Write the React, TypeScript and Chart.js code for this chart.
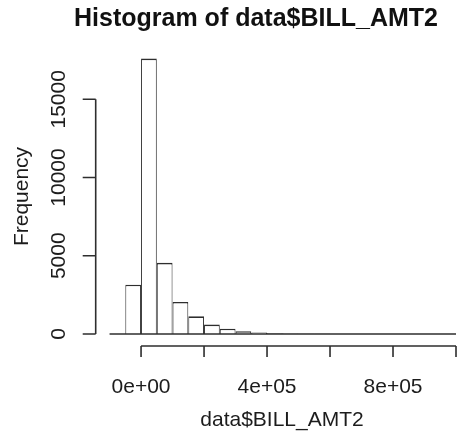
import React, { useEffect, useRef } from "react";
import { Chart, registerables } from "chart.js";

Chart.register(...registerables);

// Histogram bins (left edges) and counts
const binWidth = 50000;
const binStarts = [
  -100000, -50000, 0, 50000, 100000, 150000, 200000, 250000, 300000, 350000,
  400000, 450000, 500000, 550000, 600000, 650000, 700000, 750000, 800000,
  850000, 900000, 950000,
];
const counts = [
  3, 3150, 17600, 4550, 2050, 1130, 600, 340, 170, 90,
  45, 25, 15, 8, 5, 3, 2, 1, 1, 1, 0, 1,
];

const xTicks = [0, 200000, 400000, 600000, 800000, 1000000];
const xTickLabels = ["0e+00", "", "4e+05", "", "8e+05", ""];
const yTicks = [0, 5000, 10000, 15000];
const yTickLabels = ["0", "5000", "10000", "15000"];

const mainTitle = "Histogram of data$BILL_AMT2";
const xTitle = "data$BILL_AMT2";
const yTitle = "Frequency";

const FONT = '"Liberation Sans", Arial, Helvetica, sans-serif';
const INK = "#1c1c1c";
const LINE = "#2e2e2e";

const rAxesPlugin = {
  id: "rAxes",
  afterDraw(chart: any) {
    const ctx = chart.ctx as CanvasRenderingContext2D;
    const xs = chart.scales.x;
    const ys = chart.scales.y;
    const area = chart.chartArea;
    ctx.save();
    ctx.strokeStyle = LINE;
    ctx.lineWidth = 1.6;

    // histogram baseline (zero-height bars)
    const y0 = ys.getPixelForValue(0);
    const last = binStarts[binStarts.length - 1] + binWidth;
    ctx.beginPath();
    ctx.moveTo(xs.getPixelForValue(binStarts[0]), y0);
    ctx.lineTo(xs.getPixelForValue(last), y0);
    ctx.stroke();

    // x axis
    const axY = area.bottom;
    ctx.beginPath();
    ctx.moveTo(xs.getPixelForValue(xTicks[0]), axY);
    ctx.lineTo(xs.getPixelForValue(xTicks[xTicks.length - 1]), axY);
    for (const t of xTicks) {
      const px = xs.getPixelForValue(t);
      ctx.moveTo(px, axY);
      ctx.lineTo(px, axY + 11);
    }
    ctx.stroke();

    // y axis
    const axX = area.left;
    ctx.beginPath();
    ctx.moveTo(axX, ys.getPixelForValue(yTicks[0]));
    ctx.lineTo(axX, ys.getPixelForValue(yTicks[yTicks.length - 1]));
    for (const t of yTicks) {
      const py = ys.getPixelForValue(t);
      ctx.moveTo(axX, py);
      ctx.lineTo(axX - 13, py);
    }
    ctx.stroke();

    ctx.fillStyle = INK;
    ctx.font = `21px ${FONT}`;
    ctx.textAlign = "center";
    ctx.textBaseline = "alphabetic";

    // x tick labels
    xTicks.forEach((t, i) => {
      if (!xTickLabels[i]) return;
      ctx.fillText(xTickLabels[i], xs.getPixelForValue(t), 393);
    });

    // y tick labels (rotated)
    yTicks.forEach((t, i) => {
      ctx.save();
      ctx.translate(65, ys.getPixelForValue(t));
      ctx.rotate(-Math.PI / 2);
      ctx.fillText(yTickLabels[i], 0, 0);
      ctx.restore();
    });

    // axis titles
    ctx.fillText(xTitle, 282, 426);
    ctx.save();
    ctx.translate(28, (area.top + area.bottom) / 2);
    ctx.rotate(-Math.PI / 2);
    ctx.fillText(yTitle, 0, 0);
    ctx.restore();

    // main title
    ctx.font = `bold 25px ${FONT}`;
    ctx.fillStyle = "#111";
    ctx.fillText(mainTitle, 256, 26);

    ctx.restore();
  },
};

export default function App() {
  const ref = useRef<HTMLCanvasElement | null>(null);

  useEffect(() => {
    if (!ref.current) return;
    const data = binStarts.map((s, i) => ({ x: s + binWidth / 2, y: counts[i] }));
    const chart = new Chart(ref.current, {
      type: "bar",
      data: {
        datasets: [
          {
            data: data as any,
            backgroundColor: "#ffffff",
            borderColor: LINE,
            borderWidth: { top: 1.6, left: 1, right: 1, bottom: 0 } as any,
            inflateAmount: 0,
            barPercentage: 1,
            categoryPercentage: 1,
          },
        ],
      },
      options: {
        animation: false,
        responsive: false,
        devicePixelRatio: 1,
        layout: { padding: { left: 95.7, right: 0, top: 47, bottom: 88 } },
        plugins: {
          legend: { display: false },
          title: { display: false },
          tooltip: { enabled: false },
        },
        scales: {
          x: {
            type: "linear",
            min: -144000,
            max: 1009524,
            offset: false,
            grid: { offset: false },
            display: false,
          },
          y: { type: "linear", min: -767, max: 18342, display: false },
        },
      },
      plugins: [rAxesPlugin],
    });
    return () => chart.destroy();
  }, []);

  return (
    <div style={{ position: "absolute", left: 0, top: 0, width: 459, height: 434, background: "#fff" }}>
      <canvas ref={ref} width={459} height={434} style={{ width: 459, height: 434, display: "block" }} />
    </div>
  );
}
